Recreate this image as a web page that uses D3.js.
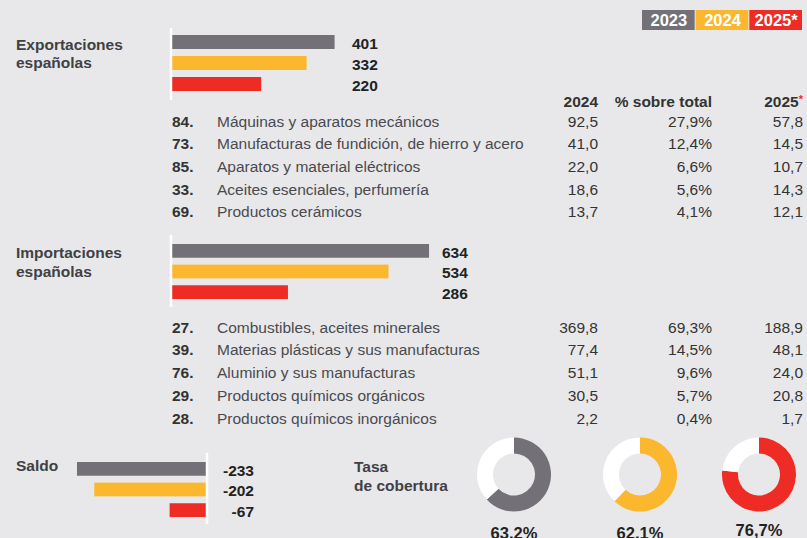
<!DOCTYPE html>
<html>
<head>
<meta charset="utf-8">
<script src="https://cdn.jsdelivr.net/npm/d3@7"></script>
<style>
  html, body { margin: 0; padding: 0; background: #e8e8ea; }
  svg { display: block; font-family: "Liberation Sans", Arial, sans-serif; }
</style>
</head>
<body>
<svg id="chart" width="807" height="538"></svg>
<script>
// years shown in the legend and the colour of each
const years = ['2023', '2024', '2025*'];
const yearColors = ['#737177', '#fbb82f', '#ee2b24'];

// totals per year
const exportTotals = [401, 332, 220];
const importTotals = [634, 534, 286];
const saldoTotals = [-233, -202, -67];
const cobertura = [63.2, 62.1, 76.7];

// table rows: code, name, 2024, % sobre total, 2025*
const exportCodes = ['84.', '73.', '85.', '33.', '69.'];
const exportNames = ['Máquinas y aparatos mecánicos', 'Manufacturas de fundición, de hierro y acero',
  'Aparatos y material eléctricos', 'Aceites esenciales, perfumería', 'Productos cerámicos'];
const export2024 = [92.5, 41.0, 22.0, 18.6, 13.7];
const exportShare = [27.9, 12.4, 6.6, 5.6, 4.1];
const export2025 = [57.8, 14.5, 10.7, 14.3, 12.1];

const importCodes = ['27.', '39.', '76.', '29.', '28.'];
const importNames = ['Combustibles, aceites minerales', 'Materias plásticas y sus manufacturas',
  'Aluminio y sus manufacturas', 'Productos químicos orgánicos', 'Productos químicos inorgánicos'];
const import2024 = [369.8, 77.4, 51.1, 30.5, 2.2];
const importShare = [69.3, 14.5, 9.6, 5.7, 0.4];
const import2025 = [188.9, 48.1, 24.0, 20.8, 1.7];

const svg = d3.select('#chart');
const fmt1 = d3.format('.1f');
const comma = v => fmt1(v).replace('.', ',');
const color = d3.scaleOrdinal().domain(years).range(yearColors);

// legend boxes top right
const legendX = d3.scaleBand().domain(years).range([642, 803]);
const legend = svg.append('g').attr('class', 'legend');
legend.selectAll('rect').data(years).enter().append('rect')
  .attr('x', d => legendX(d))
  .attr('y', 10)
  .attr('width', legendX.bandwidth() - 1)
  .attr('height', 20)
  .attr('fill', d => color(d));
legend.selectAll('text').data(years).enter().append('text')
  .attr('x', d => legendX(d) + legendX.bandwidth() / 2)
  .attr('y', 26)
  .attr('text-anchor', 'middle')
  .attr('font-size', 16.5)
  .attr('font-weight', 'bold')
  .attr('fill', '#fff')
  .text(d => d);

// horizontal bar block: title, white axis line, three bars and values
const xMain = d3.scaleLinear().domain([0, 700]).range([0, 283.8]);

function barBlock(title, values, opts) {
  const g = svg.append('g');
  const y = d3.scaleBand().domain(years).range(opts.yRange).paddingInner(1 / 3);
  title.forEach((t, i) => {
    g.append('text')
      .attr('x', 16).attr('y', opts.titleY + i * 18.5)
      .attr('font-size', 15.5).attr('font-weight', 'bold').attr('fill', '#404045')
      .text(t);
  });
  g.selectAll('rect').data(values).enter().append('rect')
    .attr('x', opts.x0 + 1)
    .attr('y', (d, i) => y(years[i]))
    .attr('width', d => opts.scale(d))
    .attr('height', y.bandwidth())
    .attr('fill', (d, i) => yearColors[i]);
  g.append('line')
    .attr('x1', opts.x0).attr('x2', opts.x0)
    .attr('y1', opts.line[0]).attr('y2', opts.line[1])
    .attr('stroke', '#fff').attr('stroke-width', 2.5);
  g.selectAll('text.val').data(values).enter().append('text')
    .attr('class', 'val')
    .attr('x', opts.labelX)
    .attr('y', (d, i) => y(years[i]) + y.bandwidth())
    .attr('font-size', 15.5).attr('font-weight', 'bold').attr('fill', '#222')
    .text(d => d);
}

barBlock(['Exportaciones', 'españolas'], exportTotals,
  {x0: 171, yRange: [35, 91], titleY: 49.5, line: [28, 100], scale: xMain, labelX: 352});
barBlock(['Importaciones', 'españolas'], importTotals,
  {x0: 171, yRange: [244, 299], titleY: 258, line: [235, 307], scale: xMain, labelX: 442});

// table of chapters
const colYear = 598, colShare = 712, colNext = 803;
const header = svg.append('g');
header.append('text').attr('x', colYear).attr('y', 107).attr('text-anchor', 'end')
  .attr('font-size', 15.5).attr('font-weight', 'bold').attr('fill', '#333').text('2024');
header.append('text').attr('x', colShare).attr('y', 107).attr('text-anchor', 'end')
  .attr('font-size', 15.5).attr('font-weight', 'bold').attr('fill', '#333').text('% sobre total');
const h25 = header.append('text').attr('x', colNext).attr('y', 107).attr('text-anchor', 'end')
  .attr('font-size', 15.5).attr('font-weight', 'bold').attr('fill', '#333');
h25.append('tspan').text('2025');
h25.append('tspan').attr('fill', '#ee2b24').attr('font-size', 11).attr('dy', -4).text('*');

function table(codes, names, v24, share, v25, y0, step) {
  const g = svg.append('g');
  const rows = g.selectAll('g').data(codes).enter().append('g')
    .attr('transform', (d, i) => `translate(0,${y0 + i * step})`);
  rows.append('text').attr('x', 172).attr('font-size', 15.5).attr('font-weight', 'bold')
    .attr('fill', '#333').text(d => d);
  rows.append('text').attr('x', 217).attr('font-size', 15.5).attr('fill', '#4a4a4f')
    .text((d, i) => names[i]);
  rows.append('text').attr('x', colYear).attr('text-anchor', 'end').attr('font-size', 15.5)
    .attr('fill', '#333').text((d, i) => comma(v24[i]));
  rows.append('text').attr('x', colShare).attr('text-anchor', 'end').attr('font-size', 15.5)
    .attr('fill', '#333').text((d, i) => comma(share[i]) + '%');
  rows.append('text').attr('x', colNext).attr('text-anchor', 'end').attr('font-size', 15.5)
    .attr('fill', '#333').text((d, i) => comma(v25[i]));
}

table(exportCodes, exportNames, export2024, exportShare, export2025, 126.5, 22.7);
table(importCodes, importNames, import2024, importShare, import2025, 332.5, 22.8);

// saldo block, bars grow to the left of the axis
const xSaldo = d3.scaleLinear().domain([0, 250]).range([0, 139.5]);
const saldo = svg.append('g');
const ySaldo = d3.scaleBand().domain(years).range([462, 517]).paddingInner(1 / 3);
saldo.append('text').attr('x', 16).attr('y', 470.5)
  .attr('font-size', 15.5).attr('font-weight', 'bold').attr('fill', '#404045').text('Saldo');
saldo.selectAll('rect').data(saldoTotals).enter().append('rect')
  .attr('x', d => 207 - xSaldo(-d))
  .attr('y', (d, i) => ySaldo(years[i]))
  .attr('width', d => xSaldo(-d))
  .attr('height', ySaldo.bandwidth())
  .attr('fill', (d, i) => yearColors[i]);
saldo.append('line').attr('x1', 207).attr('x2', 207).attr('y1', 453).attr('y2', 524)
  .attr('stroke', '#fff').attr('stroke-width', 2.5);
saldo.selectAll('text.val').data(saldoTotals).enter().append('text')
  .attr('class', 'val')
  .attr('x', 254).attr('text-anchor', 'end')
  .attr('y', (d, i) => ySaldo(years[i]) + ySaldo.bandwidth())
  .attr('font-size', 15.5).attr('font-weight', 'bold').attr('fill', '#222')
  .text(d => d);

// tasa de cobertura donuts
const cob = svg.append('g');
cob.append('text').attr('x', 354).attr('y', 472)
  .attr('font-size', 15.5).attr('font-weight', 'bold').attr('fill', '#404045').text('Tasa');
cob.append('text').attr('x', 354).attr('y', 490.5)
  .attr('font-size', 15.5).attr('font-weight', 'bold').attr('fill', '#404045').text('de cobertura');

const donutCx = [514, 640, 759];
const arc = d3.arc().innerRadius(21).outerRadius(37);
const pie = d3.pie().sort(null);
cobertura.forEach((v, i) => {
  const g = cob.append('g').attr('transform', `translate(${donutCx[i]},474.5)`);
  g.selectAll('path').data(pie([v, 100 - v])).enter().append('path')
    .attr('d', arc)
    .attr('fill', (d, j) => j === 0 ? yearColors[i] : '#fff');
  g.append('text').attr('y', i === 2 ? 61.5 : 64.5).attr('text-anchor', 'middle')
    .attr('font-size', 16.5).attr('font-weight', 'bold').attr('fill', '#222')
    .text(comma(v) + '%');
});
</script>
</body>
</html>
